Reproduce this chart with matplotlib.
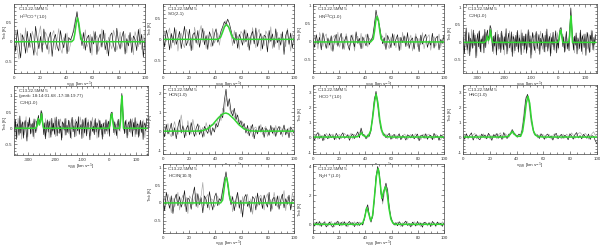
import numpy as np
import matplotlib.pyplot as plt
from matplotlib.ticker import MultipleLocator, AutoMinorLocator, FormatStrFormatter

plt.rcParams['font.family'] = ['Liberation Sans', 'DejaVu Sans']
plt.rcParams['axes.unicode_minus'] = False

SOURCE = 'C13.22-5MM 5'
PEAK = '(peak: 18:14:01.68 -17:38:19.77)'

# velocity channels (km/s)
v_narrow = np.linspace(0, 100, 80)
v_wide = np.linspace(-350, 140, 150)

# --- H13CO+(1-0) ---
h13cop_black = [0.12, -0.25, 0.31, -0.08, -0.42, 0.18, 0.05, -0.30, 0.27, -0.15,
                0.22, -0.05, -0.35, 0.40, 0.08, -0.18, 0.14, -0.27, 0.33, -0.02,
                -0.20, 0.10, 0.25, -0.38, 0.06, 0.19, -0.12, -0.24, 0.29, 0.02,
                -0.16, 0.21, -0.31, 0.11, 0.04, 0.15, 0.28, 0.52, 0.78, 0.45,
                0.18, -0.10, 0.24, -0.22, 0.09, 0.17, -0.29, 0.13, -0.06, 0.26,
                -0.33, 0.07, 0.20, -0.14, 0.30, -0.21, 0.03, -0.37, 0.16, 0.23,
                -0.09, -0.26, 0.35, 0.01, -0.19, 0.12, 0.27, -0.32, 0.08, -0.11,
                0.24, -0.28, 0.15, 0.06, -0.23, 0.32, -0.07, 0.19, -0.40, 0.10]
h13cop_gray = [0.05, 0.30, -0.20, -0.45, 0.22, 0.10, -0.12, 0.36, -0.28, 0.03,
               -0.15, 0.27, 0.09, -0.24, -0.36, 0.20, 0.41, -0.10, -0.05, 0.25,
               0.13, -0.32, -0.02, 0.18, 0.29, -0.21, 0.07, 0.34, -0.17, -0.30,
               0.11, 0.02, 0.23, -0.26, -0.08, 0.14, 0.36, 0.60, 0.70, 0.32,
               0.05, 0.21, -0.18, 0.31, -0.14, -0.02, 0.19, -0.35, 0.28, 0.06,
               0.16, -0.25, -0.11, 0.33, 0.08, 0.22, -0.31, 0.12, -0.04, -0.19,
               0.30, 0.14, -0.22, -0.06, 0.25, -0.15, 0.04, 0.21, -0.29, 0.17,
               -0.03, 0.11, -0.34, 0.26, 0.09, -0.13, 0.35, -0.20, 0.07, 0.28]
h13cop_fit_v = [0, 44, 45.5, 46.5, 47.5, 48.5, 49.5, 50.5, 51.5, 53, 100]
h13cop_fit_t = [0, 0, 0.05, 0.22, 0.48, 0.62, 0.48, 0.22, 0.05, 0, 0]

# --- SiO(2-1) ---
sio_black = [0.10, -0.18, 0.22, 0.05, -0.25, 0.14, -0.08, 0.28, -0.12, 0.02,
             0.19, -0.22, 0.07, 0.31, -0.15, -0.04, 0.24, -0.27, 0.11, 0.16,
             -0.09, 0.21, -0.19, 0.03, 0.26, -0.13, 0.09, -0.24, 0.18, 0.06,
             -0.16, 0.13, 0.25, -0.07, 0.04, 0.20, 0.30, 0.42, 0.35, 0.48,
             0.38, 0.22, 0.05, -0.10, 0.17, -0.21, 0.12, 0.01, -0.14, 0.23,
             -0.06, 0.15, -0.26, 0.08, 0.19, -0.11, 0.27, -0.17, 0.02, 0.14,
             -0.23, 0.10, 0.06, -0.30, 0.21, -0.05, 0.13, -0.19, 0.25, -0.08,
             0.04, -0.14, 0.18, -0.36, 0.09, 0.22, -0.12, 0.15, -0.20, 0.07]
sio_gray = [-0.12, 0.20, -0.05, 0.16, 0.27, -0.21, 0.09, -0.14, 0.23, -0.28,
            0.06, 0.15, -0.10, -0.20, 0.24, 0.12, -0.16, 0.04, -0.25, 0.29,
            0.08, -0.13, 0.18, 0.33, -0.07, 0.20, -0.22, 0.11, -0.03, -0.18,
            0.26, -0.09, 0.02, 0.16, -0.14, 0.12, 0.25, 0.33, 0.45, 0.30,
            0.28, 0.10, -0.15, 0.21, -0.04, 0.08, -0.24, 0.19, 0.13, -0.09,
            0.22, -0.18, 0.05, -0.12, 0.28, 0.03, -0.20, 0.14, 0.24, -0.27,
            0.07, -0.15, 0.20, 0.11, -0.09, 0.30, -0.22, 0.02, -0.11, 0.17,
            -0.25, 0.13, 0.08, -0.06, -0.18, 0.26, 0.04, -0.28, 0.12, 0.19]
sio_fit_v = [0, 42, 44, 45.5, 47, 48.5, 50, 51.5, 53, 55, 100]
sio_fit_t = [0, 0, 0.05, 0.17, 0.30, 0.35, 0.30, 0.17, 0.05, 0, 0]

# --- HN13C(1-0) ---
hn13c_black = [0.08, -0.15, 0.20, -0.06, 0.13, -0.22, 0.25, 0.02, -0.18, 0.11,
               -0.09, 0.17, -0.26, 0.05, 0.21, -0.12, 0.09, 0.24, -0.20, 0.03,
               0.16, -0.08, -0.23, 0.19, 0.07, -0.14, 0.28, -0.04, 0.10, -0.19,
               0.14, 0.01, -0.11, 0.22, -0.07, 0.06, 0.12, 0.45, 0.88, 0.62,
               0.48, 0.20, -0.05, 0.12, -0.21, 0.18, 0.04, -0.16, 0.23, -0.10,
               0.07, 0.20, -0.24, 0.13, -0.02, 0.17, -0.13, 0.26, -0.18, 0.05,
               0.11, -0.20, 0.15, 0.08, -0.27, 0.19, -0.06, 0.12, 0.21, -0.15,
               0.03, -0.09, 0.24, -0.17, 0.10, 0.16, -0.22, 0.07, -0.04, 0.18]
hn13c_gray = [-0.10, 0.18, 0.04, -0.20, 0.26, 0.09, -0.13, 0.15, 0.22, -0.17,
              0.06, -0.24, 0.12, 0.19, -0.08, 0.27, -0.15, 0.02, 0.14, -0.21,
              0.23, 0.05, -0.12, -0.03, 0.20, -0.25, 0.11, 0.16, -0.09, 0.24,
              -0.18, 0.08, 0.21, -0.14, 0.10, 0.03, 0.18, 0.50, 0.70, 0.72,
              0.35, 0.08, 0.17, -0.12, 0.25, -0.06, -0.19, 0.14, 0.01, 0.21,
              -0.16, 0.09, 0.12, -0.22, 0.27, -0.04, 0.15, -0.11, 0.06, 0.19,
              -0.25, 0.02, 0.23, -0.14, 0.10, -0.08, 0.26, -0.19, 0.04, 0.13,
              0.20, -0.23, 0.07, 0.15, -0.12, 0.01, 0.22, -0.16, 0.11, -0.07]
hn13c_fit_v = [0, 44, 46, 47, 48, 49, 50, 51, 52, 54, 100]
hn13c_fit_t = [0, 0, 0.08, 0.30, 0.60, 0.70, 0.60, 0.30, 0.08, 0, 0]

# --- C2H(1-0), average ---
c2h_black = [0.15, -0.32, 0.08, 0.41, -0.22, -0.05, 0.28, -0.38, 0.12, 0.02,
             -0.17, 0.35, -0.09, 0.21, -0.44, 0.06, 0.25, -0.13, 0.33, -0.27,
             0.10, -0.04, 0.19, -0.30, 0.37, -0.15, 0.22, 0.35, 0.08, 0.20,
             0.48, 0.40, 0.12, -0.26, 0.18, -0.11, 0.29, -0.36, 0.04, 0.23,
             -0.19, 0.14, -0.29, 0.32, 0.07, -0.21, 0.16, -0.08, 0.39, -0.33,
             0.11, 0.26, -0.16, -0.02, 0.30, -0.40, 0.17, 0.09, -0.24, 0.20,
             -0.12, 0.34, -0.28, 0.13, 0.01, -0.35, 0.27, -0.10, 0.18, -0.20,
             0.24, -0.31, 0.06, 0.36, -0.14, 0.19, -0.45, 0.10, 0.28, -0.07,
             -0.23, 0.15, 0.31, -0.18, 0.03, 0.22, -0.34, 0.12, -0.09, 0.26,
             0.07, -0.27, 0.20, -0.13, 0.38, -0.25, 0.05, 0.17, -0.39, 0.14,
             -0.06, 0.29, -0.21, 0.11, 0.33, -0.30, 0.08, -0.16, 0.25, 0.40,
             0.42, 0.21, -0.12, 0.16, -0.28, 0.09, 0.31, -0.19, 0.04, -0.24,
             0.45, 0.98, 0.55, 0.10, -0.22, 0.18, -0.08, 0.27, -0.33, 0.13,
             0.02, -0.18, 0.35, -0.26, 0.19, 0.07, -0.15, 0.24, -0.37, 0.11,
             0.28, -0.10, -0.29, 0.20, 0.05, 0.33, -0.21, 0.14, -0.06, 0.22]
c2h_gray = [-0.20, 0.18, 0.30, -0.12, 0.05, -0.33, 0.22, 0.09, -0.26, 0.37,
            0.04, -0.15, 0.26, -0.08, 0.13, -0.39, 0.20, 0.31, -0.18, 0.07,
            -0.28, 0.16, 0.02, 0.24, -0.11, 0.29, 0.10, 0.26, -0.05, 0.15,
            0.38, 0.30, -0.09, 0.14, -0.32, 0.21, 0.06, -0.17, 0.34, -0.23,
            0.12, -0.04, 0.27, -0.20, 0.19, 0.08, -0.36, 0.25, -0.13, 0.03,
            -0.25, 0.17, 0.33, -0.10, -0.27, 0.11, 0.23, -0.31, 0.15, -0.02,
            0.29, -0.19, 0.05, 0.21, -0.14, 0.36, -0.07, 0.12, -0.29, 0.18,
            -0.08, 0.24, -0.22, 0.01, 0.30, -0.16, 0.09, -0.35, 0.27, 0.13,
            0.20, -0.30, 0.06, 0.25, -0.12, -0.24, 0.17, 0.32, -0.06, -0.20,
            0.14, 0.03, -0.28, 0.31, -0.09, 0.22, -0.17, 0.08, 0.26, -0.31,
            0.19, -0.13, 0.07, -0.25, 0.16, 0.04, 0.28, -0.20, 0.10, 0.32,
            0.30, 0.12, 0.23, -0.15, 0.02, -0.26, 0.18, 0.09, -0.11, 0.21,
            0.52, 0.70, 0.40, -0.05, 0.15, -0.30, 0.11, 0.20, -0.16, 0.06,
            -0.22, 0.27, -0.04, 0.13, -0.34, 0.24, 0.16, -0.12, 0.05, 0.29,
            -0.18, 0.09, 0.22, -0.27, 0.35, -0.08, 0.01, -0.24, 0.19, 0.10]
c2h_fit_v = [-350, -272, -266, -262, -258, -254, -250, -246, -242, 0, 4, 8, 11, 14, 18,
             40, 44, 47, 49, 51, 54, 140]
c2h_fit_t = [0, 0, 0.05, 0.18, 0.05, 0.12, 0.35, 0.12, 0, 0, 0.08, 0.30, 0.35, 0.20, 0,
             0, 0.20, 0.65, 0.75, 0.45, 0, 0]

# --- C2H(1-0), peak position ---
c2hpk_black = [-0.10, 0.27, -0.35, 0.14, 0.06, -0.22, 0.38, -0.15, 0.09, 0.20,
               -0.31, 0.12, 0.24, -0.07, -0.40, 0.19, 0.03, 0.33, -0.18, 0.08,
               0.15, -0.26, 0.29, 0.01, -0.14, 0.21, 0.25, 0.40, 0.12, 0.30,
               0.55, 0.45, 0.10, -0.20, 0.17, -0.33, 0.06, 0.26, -0.12, 0.22,
               0.04, -0.28, 0.31, -0.09, 0.16, -0.19, 0.11, 0.35, -0.24, 0.02,
               0.28, -0.16, 0.07, -0.37, 0.20, 0.13, -0.06, 0.30, -0.21, 0.10,
               -0.13, 0.25, 0.05, -0.30, 0.18, 0.34, -0.11, 0.08, -0.27, 0.15,
               0.21, -0.08, 0.36, -0.19, 0.03, 0.12, -0.32, 0.27, 0.09, -0.15,
               0.32, -0.24, 0.10, 0.19, -0.05, -0.36, 0.23, 0.14, -0.10, 0.06,
               -0.20, 0.30, -0.12, 0.17, 0.08, -0.28, 0.24, -0.03, 0.13, -0.34,
               0.16, 0.04, -0.18, 0.26, -0.09, 0.11, 0.22, -0.25, 0.35, 0.48,
               0.50, 0.25, -0.14, 0.20, 0.01, -0.23, 0.15, 0.28, -0.07, 0.18,
               0.62, 1.08, 0.70, 0.15, -0.17, 0.24, 0.05, -0.30, 0.12, 0.20,
               -0.11, 0.29, 0.07, -0.26, 0.18, -0.04, 0.33, -0.19, 0.10, 0.14,
               -0.28, 0.06, 0.25, -0.13, 0.21, -0.35, 0.09, 0.17, -0.08, 0.30]
c2hpk_gray = [0.22, -0.06, 0.13, -0.29, 0.31, 0.07, -0.18, 0.25, -0.34, 0.11,
              0.18, -0.21, 0.04, 0.36, -0.12, -0.27, 0.26, 0.09, 0.14, -0.16,
              -0.03, 0.21, -0.32, 0.17, 0.28, -0.09, 0.12, 0.34, 0.20, 0.18,
              0.48, 0.50, 0.15, 0.08, -0.25, 0.30, -0.14, 0.05, 0.19, -0.30,
              0.27, 0.10, -0.20, 0.14, -0.07, 0.33, -0.26, 0.02, 0.23, -0.11,
              -0.15, 0.20, 0.29, -0.04, -0.30, 0.16, 0.08, -0.22, 0.31, 0.12,
              0.05, -0.17, 0.24, 0.13, -0.33, 0.07, 0.26, -0.10, 0.19, 0.28,
              -0.24, 0.15, 0.02, -0.12, 0.35, 0.22, -0.06, 0.16, -0.29, 0.30,
              0.09, 0.33, -0.18, 0.27, 0.11, 0.05, -0.23, 0.21, 0.34, -0.14,
              0.25, -0.02, 0.18, -0.31, 0.13, 0.29, -0.09, 0.24, -0.20, 0.07,
              -0.26, 0.19, 0.11, -0.05, 0.27, -0.18, 0.03, 0.15, 0.22, 0.42,
              0.38, 0.16, 0.24, -0.20, 0.09, 0.14, -0.32, 0.20, 0.06, -0.10,
              0.70, 0.85, 0.52, -0.06, 0.20, -0.14, 0.27, 0.01, -0.22, 0.16,
              0.23, -0.15, 0.10, 0.30, -0.08, 0.17, -0.27, 0.06, 0.21, -0.19,
              0.12, -0.24, 0.18, 0.04, -0.16, 0.26, -0.03, -0.29, 0.14, 0.08]
c2hpk_fit_v = [-350, -272, -266, -262, -258, -254, -250, -246, -242, 0, 4, 8, 11, 14, 18,
               40, 44, 47, 49, 51, 54, 140]
c2hpk_fit_t = [0, 0, 0.08, 0.30, 0.10, 0.20, 0.45, 0.18, 0, 0, 0.10, 0.38, 0.45, 0.25, 0,
               0, 0.30, 0.90, 1.00, 0.55, 0, 0]

# --- HCN(1-0) ---
hcn_black = [0.10, -0.30, 0.35, -0.15, 0.05, 0.42, -0.25, 0.18, -0.40, 0.22,
             0.60, -0.10, 0.28, -0.35, 0.12, 0.30, -0.20, 0.45, 0.02, -0.28,
             0.15, 0.38, -0.18, 0.08, -0.32, 0.25, 0.05, -0.12, 0.33, -0.22,
             0.18, -0.05, 0.40, 0.22, 0.55, 0.90, 0.70, 1.60, 2.20, 1.30,
             1.70, 1.05, 0.80, 1.20, 0.60, 0.85, 0.35, 0.55, 0.20, 0.40,
             -0.10, 0.30, -0.25, 0.12, 0.35, -0.40, 0.08, -0.15, 0.28, -0.05,
             0.20, -0.33, 0.15, 0.05, -0.22, 0.30, -0.12, 0.18, -0.28, 0.10,
             0.25, -0.18, 0.02, 0.32, -0.20, 0.12, -0.35, 0.22, 0.06, -0.10]
hcn_gray = [-0.20, 0.25, 0.08, 0.40, -0.12, -0.30, 0.15, 0.50, 0.05, -0.18,
            0.30, 0.85, 0.20, 0.10, -0.25, 0.55, 0.05, -0.15, 0.62, 0.18,
            -0.22, 0.10, 0.30, -0.08, 0.20, -0.28, 0.45, 0.12, -0.05, 0.35,
            0.30, 0.45, 0.15, 0.60, 0.80, 0.55, 1.20, 1.00, 1.75, 1.45,
            1.25, 0.90, 1.10, 0.70, 0.95, 0.45, 0.60, 0.25, 0.50, 0.10,
            0.20, -0.15, 0.05, 0.28, -0.30, 0.15, 0.22, -0.08, 0.02, 0.35,
            -0.18, 0.12, 0.25, -0.28, 0.08, -0.05, 0.20, -0.22, 0.30, -0.10,
            0.05, 0.22, -0.30, 0.15, 0.10, -0.15, 0.18, -0.02, -0.25, 0.12]
hcn_fit_v = [0, 25, 30, 34, 38, 42, 46, 48, 50, 54, 58, 62, 66, 70, 100]
hcn_fit_t = [0, 0, 0.02, 0.12, 0.35, 0.68, 0.92, 0.95, 0.90, 0.65, 0.33, 0.11, 0.02, 0, 0]

# --- HCO+(1-0) ---
hcop_black = [0.05, -0.20, 0.15, 0.30, -0.10, 0.08, -0.25, 0.18, 0.02, -0.12,
              0.22, -0.05, 0.10, -0.18, 0.25, 0.04, -0.15, 0.12, 0.28, -0.08,
              0.00, 0.16, -0.22, 0.09, 0.20, -0.10, 0.14, 0.35, -0.05, 0.60,
              0.20, 0.10, -0.12, 0.15, 0.05, 0.45, 1.35, 2.45, 3.05, 2.30,
              1.30, 0.60, 0.30, 0.20, -0.05, 0.12, 0.25, -0.15, 0.08, 0.18,
              -0.10, 0.05, 0.22, -0.18, 0.10, 0.02, -0.20, 0.15, 0.08, -0.06,
              0.18, -0.12, 0.04, 0.20, -0.25, 0.10, 0.14, -0.08, 0.22, -0.15,
              0.06, 0.12, -0.18, 0.25, -0.02, 0.08, -0.22, 0.15, 0.03, -0.10]
hcop_gray = [-0.12, 0.18, 0.06, -0.15, 0.22, -0.04, 0.12, -0.20, 0.25, 0.08,
             -0.08, 0.14, 0.20, 0.02, -0.16, 0.10, 0.18, -0.10, 0.05, 0.24,
             0.12, -0.06, 0.08, 0.26, -0.14, 0.18, 0.02, 0.12, 0.30, 0.45,
             0.08, 0.18, 0.04, -0.06, 0.22, 0.65, 1.65, 2.65, 2.80, 2.00,
             1.00, 0.45, 0.15, 0.05, 0.20, -0.10, 0.08, 0.16, -0.12, 0.04,
             0.15, -0.14, 0.10, 0.06, -0.08, 0.20, 0.12, -0.16, 0.02, 0.18,
             -0.05, 0.10, 0.22, -0.12, 0.08, -0.18, 0.06, 0.20, -0.10, 0.14,
             0.20, -0.08, 0.05, -0.14, 0.18, 0.10, -0.06, -0.20, 0.12, 0.02]
hcop_fit_v = [0, 30, 34, 36, 37, 38, 40, 42, 44, 45.5, 47, 48.2, 49.5, 51, 52.5, 54, 56, 60, 100]
hcop_fit_t = [0, 0, 0.02, 0.17, 0.28, 0.13, 0.02, 0.05, 0.40, 1.25, 2.35, 2.85, 2.30, 1.15, 0.45,
              0.13, 0.03, 0, 0]

# --- HNC(1-0) ---
hnc_black = [0.10, -0.15, 0.22, -0.05, 0.12, 0.28, -0.20, 0.06, 0.15, -0.10,
             -0.18, 0.20, 0.04, 0.14, -0.12, 0.25, 0.08, -0.22, 0.16, 0.02,
             0.24, -0.08, 0.12, -0.16, 0.30, 0.05, -0.10, 0.20, 0.18, 0.50,
             0.30, 0.12, 0.06, 0.20, 0.10, 0.50, 1.40, 2.50, 2.85, 2.40,
             1.40, 0.70, 0.25, 0.10, 0.15, -0.10, 0.22, 0.05, -0.15, 0.12,
             0.20, -0.05, 0.08, -0.20, 0.14, 0.25, -0.12, 0.06, 0.18, -0.08,
             0.12, 0.02, -0.18, 0.22, 0.08, -0.14, 0.16, 0.30, -0.06, 0.10,
             -0.12, 0.18, 0.05, -0.08, 0.20, -0.16, 0.10, 0.04, -0.25, -0.45]
hnc_gray = [-0.05, 0.12, 0.20, -0.14, 0.08, -0.02, 0.16, 0.24, -0.12, 0.05,
            0.14, -0.06, 0.22, -0.10, 0.06, 0.18, -0.15, 0.10, 0.02, 0.20,
            -0.12, 0.15, 0.28, 0.05, -0.08, 0.22, 0.10, -0.04, 0.35, 0.30,
            0.15, 0.22, -0.05, 0.10, 0.16, 0.75, 1.75, 2.65, 2.75, 2.05,
            1.05, 0.55, 0.18, 0.22, -0.06, 0.14, 0.02, 0.18, 0.08, -0.10,
            0.06, 0.16, -0.14, 0.10, 0.22, -0.08, 0.12, 0.02, -0.12, 0.20,
            -0.08, 0.20, 0.10, -0.02, 0.28, 0.12, -0.10, 0.16, 0.24, 0.30,
            0.18, -0.04, 0.25, 0.12, -0.14, 0.08, 0.22, 0.35, 0.10, 0.05]
hnc_fit_v = [0, 30, 34, 36, 37, 38, 40, 43, 44.5, 46, 47.2, 48.5, 49.8, 51, 52.5, 54, 56, 60, 100]
hnc_fit_t = [0, 0, 0.05, 0.27, 0.38, 0.22, 0.05, 0.05, 0.38, 1.30, 2.25, 2.72, 2.25, 1.25, 0.43,
             0.13, 0.03, 0, 0]

# --- HC3N(10-9) ---
hc3n_black = [0.12, -0.22, 0.30, 0.05, -0.15, 0.20, -0.30, 0.10, 0.25, -0.08,
              0.18, -0.12, 0.04, 0.35, -0.25, 0.14, 0.08, -0.18, 0.22, 0.45,
              -0.10, 0.26, -0.05, 0.15, -0.28, 0.20, 0.10, -0.14, 0.32, 0.02,
              -0.20, 0.16, 0.28, -0.08, 0.12, 0.06, 0.35, 0.62, 0.88, 0.55,
              0.20, -0.05, 0.18, -0.22, 0.10, 0.30, -0.15, 0.08, -0.40, 0.15,
              0.24, -0.10, 0.05, -0.26, 0.18, 0.12, -0.20, 0.28, -0.06, 0.14,
              -0.16, 0.22, 0.02, -0.12, 0.30, -0.24, 0.10, 0.16, -0.08, 0.20,
              -0.18, 0.08, 0.25, -0.14, 0.12, -0.04, 0.22, -0.20, 0.10, 0.06]
hc3n_gray = [-0.15, 0.18, -0.05, 0.25, 0.10, -0.28, 0.14, -0.12, 0.06, 0.30,
             -0.20, 0.08, 0.22, -0.10, 0.16, -0.30, 0.20, 0.12, -0.06, 0.15,
             0.28, -0.14, 0.10, 0.20, 0.58, -0.08, 0.16, 0.24, -0.20, 0.12,
             0.08, -0.12, 0.04, 0.20, -0.06, 0.15, 0.40, 0.72, 0.75, 0.48,
             0.12, 0.20, -0.25, 0.06, -0.12, 0.22, 0.05, -0.30, 0.18, -0.08,
             0.10, 0.25, -0.15, 0.12, -0.32, 0.06, 0.20, -0.10, 0.16, 0.22,
             0.08, -0.20, 0.14, 0.26, -0.05, 0.10, -0.18, 0.30, 0.04, -0.12,
             0.20, -0.08, 0.12, 0.35, -0.22, 0.18, 0.05, -0.14, 0.28, 0.10]
hc3n_fit_v = [0, 44, 45.5, 46.5, 47.5, 48.5, 49.5, 50.5, 51.5, 53, 100]
hc3n_fit_t = [0, 0, 0.08, 0.35, 0.65, 0.72, 0.55, 0.25, 0.06, 0, 0]

# --- N2H+(1-0) ---
n2hp_black = [0.05, -0.12, 0.15, -0.05, 0.20, -0.15, 0.08, 0.12, -0.18, 0.02,
              0.16, -0.08, -0.20, 0.10, 0.05, 0.22, -0.10, 0.14, -0.06, 0.18,
              -0.14, 0.08, 0.20, -0.02, 0.12, -0.16, 0.06, 0.15, -0.08, 0.10,
              -0.05, 0.40, 1.05, 1.35, 0.55, 0.15, 0.60, 1.80, 3.30, 4.00,
              3.50, 2.10, 1.60, 2.40, 2.85, 2.30, 1.10, 0.45, 0.15, -0.05,
              0.12, -0.10, 0.18, 0.04, -0.14, 0.10, 0.22, -0.08, 0.06, -0.18,
              0.15, 0.02, -0.12, 0.20, -0.06, 0.10, -0.20, 0.14, 0.08, -0.04,
              0.12, -0.16, 0.20, 0.05, -0.10, 0.16, -0.02, 0.08, -0.14, 0.10]
n2hp_gray = [-0.10, 0.14, 0.02, 0.18, -0.12, 0.10, -0.06, 0.22, 0.04, -0.14,
             0.08, 0.20, -0.04, -0.16, 0.18, 0.02, 0.12, -0.12, 0.20, -0.02,
             0.12, -0.18, 0.06, 0.14, -0.08, 0.18, 0.00, -0.12, 0.16, 0.05,
             0.10, 0.30, 0.90, 1.20, 0.70, 0.25, 0.50, 1.50, 3.00, 3.85,
             3.70, 2.40, 1.40, 2.10, 2.60, 2.50, 1.30, 0.55, 0.20, 0.08,
             -0.08, 0.15, 0.02, -0.16, 0.12, -0.04, 0.10, 0.18, -0.12, 0.06,
             -0.10, 0.18, 0.06, -0.08, 0.14, -0.16, 0.08, 0.02, 0.16, -0.12,
             0.05, 0.10, -0.08, 0.14, -0.18, 0.04, 0.12, -0.06, 0.18, -0.02]
n2hp_fit_v = [0, 36, 38, 39.5, 41, 42.5, 44, 45.5, 47, 48.5, 49.8, 51, 52.5, 54, 55.3, 56.5,
              58, 59.5, 61, 63, 100]
n2hp_fit_t = [0, 0, 0.10, 0.50, 1.15, 0.75, 0.25, 0.60, 2.00, 3.40, 3.85, 3.10, 1.80, 2.30,
              2.60, 2.20, 1.10, 0.35, 0.08, 0, 0]

BLACK = '#111111'
GRAY = '#a5a5a5'
GREEN = '#33d633'
TXT = '#333333'
FS = 3.2

fig = plt.figure(figsize=(6.0, 2.49), dpi=100)


def px_rect(x1, y1, x2, y2):
    return [x1 / 600, 1 - y2 / 249, (x2 - x1) / 600, (y2 - y1) / 249]


def panel(rect, v, black, gray, fit_v, fit_t, xlim, ylim, ystep, label, xstep=20, xminor=5,
          ylab_v=0.25, ylab_dx=9.0, extra=None, xlab_y=-0.095):
    ax = fig.add_axes(rect)
    ax.plot(v, gray, color=GRAY, lw=0.45)
    ax.plot(v, black, color=BLACK, lw=0.45)
    ax.plot(fit_v, fit_t, color=GREEN, lw=1.1)
    ax.set_xlim(*xlim)
    ax.set_ylim(*ylim)
    ax.xaxis.set_major_locator(MultipleLocator(xstep))
    ax.xaxis.set_minor_locator(MultipleLocator(xminor))
    ax.yaxis.set_major_locator(MultipleLocator(ystep))
    ax.yaxis.set_minor_locator(AutoMinorLocator(5))
    ax.yaxis.set_major_formatter(FormatStrFormatter('%g'))
    ax.tick_params(which='both', direction='in', top=True, right=True, labelsize=FS,
                   colors=TXT, width=0.4)
    ax.tick_params(axis='x', pad=2.0)
    ax.tick_params(axis='y', pad=1.2)
    ax.tick_params(which='major', length=2.5)
    ax.tick_params(which='minor', length=1.2)
    for s in ax.spines.values():
        s.set_linewidth(0.5)
        s.set_color('#444444')
    ax.set_xlabel(r'v$_{\rm LSR}$ [km s$^{-1}$]', fontsize=FS, color=TXT)
    ax.xaxis.set_label_coords(0.5, xlab_y)
    ax.set_ylabel(r'T$_{\rm mb}$ [K]', fontsize=3.0, color=TXT)
    # right edge of the y title sits ylab_dx px left of the frame
    ax.yaxis.set_label_coords(-ylab_dx / (rect[2] * 600),
                              (ylab_v - ylim[0]) / (ylim[1] - ylim[0]))
    lines = [SOURCE] + ([extra] if extra else []) + [label]
    ax.text(0.04, 0.95, '\n'.join(lines), transform=ax.transAxes, fontsize=FS, color=TXT,
            va='top', ha='left', linespacing=1.2)
    return ax


# row 1
panel(px_rect(14, 4, 145, 73), v_narrow, h13cop_black, h13cop_gray, h13cop_fit_v, h13cop_fit_t,
      (0, 100), (-0.81, 0.977), 0.5, r'H$^{13}$CO$^+$(1-0)', ylab_dx=5.0)
panel(px_rect(163, 4, 294, 73), v_narrow, sio_black, sio_gray, sio_fit_v, sio_fit_t,
      (0, 100), (-0.8, 0.84), 0.5, 'SiO(2-1)')
panel(px_rect(313, 4, 444, 73), v_narrow, hn13c_black, hn13c_gray, hn13c_fit_v, hn13c_fit_t,
      (0, 100), (-0.86, 1.05), 0.5, r'HN$^{13}$C(1-0)')
panel(px_rect(463, 4, 597, 73), v_wide, c2h_black, c2h_gray, c2h_fit_v, c2h_fit_t,
      (-352, 145), (-0.87, 1.09), 0.5, r'C$_2$H(1-0)', xstep=100, xminor=20)

# row 2
panel(px_rect(14, 86, 148, 155), v_wide, c2hpk_black, c2hpk_gray, c2hpk_fit_v, c2hpk_fit_t,
      (-352, 145), (-0.83, 1.31), 0.5, r'C$_2$H(1-0)', xstep=100, xminor=20, extra=PEAK,
      ylab_v=0.15, ylab_dx=5.0)
panel(px_rect(163, 85, 294, 154), v_narrow, hcn_black, hcn_gray, hcn_fit_v, hcn_fit_t,
      (0, 100), (-1.2, 2.42), 1, 'HCN(1-0)', ylab_v=0.5)
panel(px_rect(313, 85, 444, 154), v_narrow, hcop_black, hcop_gray, hcop_fit_v, hcop_fit_t,
      (0, 100), (-1.13, 3.47), 1, r'HCO$^+$(1-0)', ylab_v=1.5)
panel(px_rect(463, 85, 597, 154), v_narrow, hnc_black, hnc_gray, hnc_fit_v, hnc_fit_t,
      (0, 100), (-1.13, 3.47), 1, 'HNC(1-0)', ylab_v=1.5)

# row 3
panel(px_rect(163, 164, 294, 233), v_narrow, hc3n_black, hc3n_gray, hc3n_fit_v, hc3n_fit_t,
      (0, 100), (-0.85, 1.1), 0.5, r'HC$_3$N(10-9)', xlab_y=-0.08)
panel(px_rect(313, 164, 444, 233), v_narrow, n2hp_black, n2hp_gray, n2hp_fit_v, n2hp_fit_t,
      (0, 100), (-0.6, 4.17), 2, r'N$_2$H$^+$(1-0)', ylab_v=1.0, xlab_y=-0.08)

fig.savefig('out.png', dpi=100)
